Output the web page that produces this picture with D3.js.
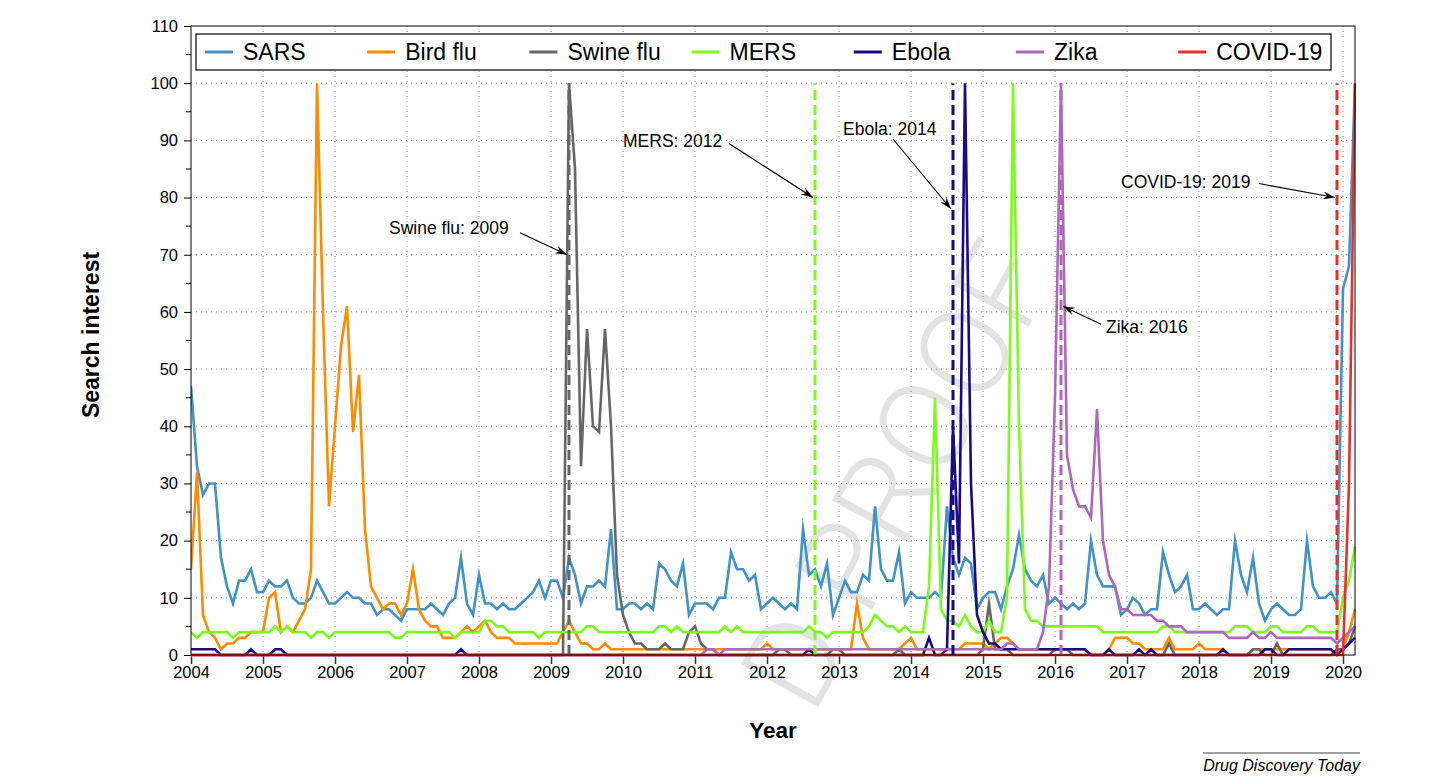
<!DOCTYPE html>
<html><head><meta charset="utf-8">
<script src="https://cdn.jsdelivr.net/npm/d3@7/dist/d3.min.js"></script>
<style>
body{margin:0;background:#fff;}
svg{display:block;font-family:"Liberation Sans",Arial,Helvetica,sans-serif;}
</style>
</head><body>
<svg id="chart" width="1435" height="784"></svg>
<script>
// ---------- DATA (monthly search interest, Jan 2004 – Mar 2020) ----------
const startYear = 2004;
const seriesNames = ["SARS", "Bird flu", "Swine flu", "MERS", "Ebola", "Zika", "COVID-19"];
const seriesColors = ["#4392c6", "#ff8c00", "#666666", "#7cfc1c", "#1a0a86", "#ad68bd", "#e8302a"];

const sars = [
 47,33,28,30,30,17,12,9,13,13,15,11,
 11,13,12,12,13,10,9,9,10,13,11,9,
 9,10,11,10,10,9,9,7,8,8,7,6,
 8,8,8,8,9,8,7,9,10,17,9,7,
 14,9,9,8,9,8,8,9,10,11,13,10,
 13,13,10,17,14,9,12,12,13,12,22,8,
 8,9,9,8,9,8,16,15,13,12,16,7,
 9,9,9,8,10,10,18,15,15,13,14,8,
 9,10,9,8,9,8,22,14,15,12,16,7,
 10,13,11,11,14,13,26,15,13,13,18,9,
 11,10,10,10,11,10,26,17,14,17,16,8,
 10,11,11,8,12,15,21,15,13,12,14,9,
 10,9,8,9,8,9,20,14,12,12,12,7,
 8,10,9,7,8,8,18,14,11,12,14,8,
 8,9,8,7,8,8,20,14,11,17,9,6,
 8,9,8,7,7,8,20,12,10,10,11,9,
 64,68,100];

const birdFlu = [
 15,32,7,4,3,1,2,2,3,3,4,4,
 4,10,11,4,5,4,6,8,15,100,60,26,
 40,54,61,39,49,22,12,10,8,9,9,7,
 9,15,8,6,5,5,3,3,3,4,5,4,
 5,6,4,3,3,3,2,2,2,2,2,2,
 2,2,4,6,4,2,2,1,1,2,1,1,
 1,1,1,1,1,1,1,1,1,1,1,1,
 1,1,1,1,1,1,1,1,1,1,1,1,
 2,1,1,1,1,1,1,1,1,1,1,1,
 1,1,1,9,3,1,1,1,1,1,1,2,
 3,1,1,1,1,1,1,1,1,2,2,2,
 2,1,2,3,3,2,1,1,1,1,1,1,
 1,1,1,1,1,1,0,0,0,1,3,3,
 3,2,2,1,1,1,1,3,1,1,1,1,
 2,1,1,1,1,0,0,0,0,1,1,1,
 1,1,1,1,1,1,1,1,1,1,1,0,
 1,4,8];

const swineFlu = [
 0,0,0,0,0,0,0,0,0,0,0,0,
 0,0,0,0,0,0,0,0,0,0,0,0,
 0,0,0,0,0,0,0,0,0,0,0,0,
 0,0,0,0,0,0,0,0,0,0,0,0,
 0,0,0,0,0,0,0,0,0,0,0,0,
 0,0,0,100,85,33,57,40,39,57,40,14,
 7,4,2,2,1,1,1,2,1,1,1,4,
 5,2,1,1,0,0,0,0,0,0,0,0,
 0,0,1,1,0,0,0,0,0,0,0,1,
 1,0,0,0,0,0,0,0,0,0,1,0,
 0,0,0,0,0,0,0,0,0,0,0,0,
 1,9,1,1,1,0,0,0,0,0,0,0,
 1,1,1,0,0,0,0,0,0,0,0,0,
 0,0,0,0,0,0,0,2,0,0,0,0,
 0,0,0,0,0,0,0,0,0,1,1,0,
 0,2,0,0,0,0,0,0,0,0,0,1,
 1,2,5];

const mers = [
 4,3,4,4,4,4,4,3,4,4,4,4,
 4,4,5,4,5,4,4,4,3,4,4,3,
 4,4,4,4,4,4,4,4,4,4,3,3,
 4,4,4,4,4,4,4,4,3,4,4,4,
 4,6,6,5,5,4,4,4,4,4,3,4,
 4,4,4,4,4,4,5,5,4,4,4,4,
 4,4,4,4,4,4,5,5,4,5,4,4,
 4,4,4,4,4,5,4,5,4,4,4,4,
 4,4,4,4,4,4,4,5,4,4,3,4,
 4,4,4,4,4,5,7,6,5,5,4,5,
 4,4,4,12,45,8,6,6,5,7,5,4,
 4,6,4,4,10,100,40,8,6,6,5,5,
 5,5,5,5,5,5,5,5,4,4,4,4,
 4,4,4,4,4,4,5,5,4,4,4,4,
 4,4,4,4,4,4,5,5,5,4,4,4,
 5,5,4,4,4,4,5,5,4,4,4,4,
 10,13,19];

const ebola = [
 1,1,1,1,1,0,0,0,0,0,1,0,
 0,0,1,1,0,0,0,0,0,0,0,0,
 0,0,0,0,0,0,0,0,0,0,0,0,
 0,0,0,0,0,0,0,0,0,1,0,0,
 0,0,0,0,0,0,0,0,0,0,0,0,
 0,0,0,0,0,0,0,0,0,0,0,0,
 0,0,0,0,0,0,0,0,0,0,0,0,
 0,0,0,0,0,0,0,0,0,0,0,0,
 0,0,0,0,0,0,0,1,0,0,0,0,
 0,0,0,0,0,0,0,0,0,0,0,0,
 0,0,0,3,0,0,1,40,16,100,30,7,
 4,2,2,1,1,1,1,1,1,1,1,1,
 1,1,1,1,1,1,0,0,0,1,0,0,
 0,0,1,0,1,0,0,0,0,0,0,0,
 0,0,0,0,1,0,0,0,0,0,0,1,
 1,0,0,1,1,1,1,1,1,1,1,0,
 1,2,3];

const zika = [
 0,0,0,0,0,0,0,0,0,0,0,0,
 0,0,0,0,0,0,0,0,0,0,0,0,
 0,0,0,0,0,0,0,0,0,0,0,0,
 0,0,0,0,0,0,0,0,0,0,0,0,
 0,0,0,0,0,0,0,0,0,0,0,0,
 0,0,0,0,0,0,0,0,0,0,0,0,
 0,0,0,0,0,0,0,0,0,0,0,0,
 0,0,1,1,0,1,1,1,1,1,1,1,
 1,1,1,1,1,1,1,1,1,1,1,1,
 1,1,1,1,1,1,1,1,1,1,1,1,
 1,1,1,1,1,1,1,1,1,1,1,1,
 1,1,1,1,2,2,1,1,1,1,4,12,
 45,100,35,29,26,26,24,43,20,14,12,8,
 8,7,7,7,7,6,6,5,5,5,4,4,
 4,4,4,4,4,3,3,3,3,4,3,3,
 4,3,3,3,3,3,3,3,3,3,3,2,
 3,4,5];

const covid = [
 0,0,0,0,0,0,0,0,0,0,0,0,
 0,0,0,0,0,0,0,0,0,0,0,0,
 0,0,0,0,0,0,0,0,0,0,0,0,
 0,0,0,0,0,0,0,0,0,0,0,0,
 0,0,0,0,0,0,0,0,0,0,0,0,
 0,0,0,0,0,0,0,0,0,0,0,0,
 0,0,0,0,0,0,0,0,0,0,0,0,
 0,0,0,0,0,0,0,0,0,0,0,0,
 0,0,0,0,0,0,0,0,0,0,0,0,
 0,0,0,0,0,0,0,0,0,0,0,0,
 0,0,0,0,0,0,0,0,0,0,0,0,
 0,0,0,0,0,0,0,0,0,0,0,0,
 0,0,0,0,0,0,0,0,0,0,0,0,
 0,0,0,0,0,0,0,0,0,0,0,0,
 0,0,0,0,0,0,0,0,0,0,0,0,
 0,0,0,0,0,0,0,0,0,0,0,0,
 0,30,100];

const yTickValues = [0,10,20,30,40,50,60,70,80,90,100,110];
const yMinorTicks = [5,15,25,35,45,55,65,75,85,95,105];
const xTickValues = [2004,2005,2006,2007,2008,2009,2010,2011,2012,2013,2014,2015,2016,2017,2018,2019,2020];

// outbreak markers: month index of dashed line, label, arrow target value
const outbreakSeries = [2, 3, 4, 5, 6];
const outbreakMonth = [63, 104, 127, 145, 191];
const outbreakLabels = ["Swine flu: 2009", "MERS: 2012", "Ebola: 2014", "Zika: 2016", "COVID-19: 2019"];
const outbreakArrowValue = [70, 80, 78, 61, 80];

// ---------- CHART ----------
const allSeries = [sars, birdFlu, swineFlu, mers, ebola, zika, covid];
const L = 191, R = 1355, T = 26, B = 655;
const svg = d3.select("#chart");

const x = d3.scaleLinear().domain([startYear, startYear + (sars.length - 1) / 12]).range([L, R]);
const y = d3.scaleLinear().domain([0, 110]).range([B, T]);
const tOf = i => startYear + i / 12;

// watermark
svg.append("g")
  .attr("transform", "translate(1020,255) rotate(-61)")
  .append("text")
  .attr("text-anchor", "end")
  .attr("dominant-baseline", "central")
  .attr("font-family", "Roboto, 'Liberation Sans', sans-serif")
  .attr("font-weight", 300)
  .attr("font-size", 124)
  .attr("fill", "#e3e3e3")
  .text("D PROOF");

// grid
const grid = svg.append("g");
grid.selectAll("line.h").data(yTickValues.filter(v => v > 0 && v < 110)).join("line")
  .attr("x1", L).attr("x2", R).attr("y1", d => y(d)).attr("y2", d => y(d))
  .attr("stroke", "#8c8c8c").attr("stroke-width", 1).attr("stroke-dasharray", "1,4");
grid.selectAll("line.v").data(xTickValues.filter(v => v > 2004)).join("line")
  .attr("x1", d => x(d)).attr("x2", d => x(d)).attr("y1", T).attr("y2", B)
  .attr("stroke", "#8c8c8c").attr("stroke-width", 1).attr("stroke-dasharray", "1,4");

// axes
const yAxis = d3.axisLeft(y).tickValues(yTickValues).tickSize(7).tickPadding(6).tickFormat(d3.format("d"));
const gy = svg.append("g").attr("transform", `translate(${L},0)`).call(yAxis);
gy.selectAll("text").attr("font-size", 16.5).attr("fill", "#000").attr("font-family", "'Liberation Sans',Arial,sans-serif");
gy.select(".domain").remove();
svg.append("g").selectAll("line").data(yMinorTicks).join("line")
  .attr("x1", L - 5).attr("x2", L).attr("y1", d => y(d)).attr("y2", d => y(d)).attr("stroke", "#000");

const xAxis = d3.axisBottom(x).tickValues(xTickValues).tickSize(9).tickPadding(2).tickFormat(d3.format("d"));
const gx = svg.append("g").attr("transform", `translate(0,${B})`).call(xAxis);
gx.selectAll("text").attr("font-size", 16.5).attr("fill", "#000").attr("font-family", "'Liberation Sans',Arial,sans-serif");
gx.select(".domain").remove();
gx.selectAll("line").attr("stroke", "#333").attr("stroke-width", 1.5);

// clip + arrow marker
const defs = svg.append("defs");
defs.append("clipPath").attr("id", "clip").append("rect")
  .attr("x", L).attr("y", T).attr("width", R - L + 1).attr("height", B - T + 3);
defs.append("marker").attr("id", "arrow")
  .attr("viewBox", "0 0 12 8").attr("refX", 12).attr("refY", 4)
  .attr("markerWidth", 12).attr("markerHeight", 8).attr("markerUnits", "userSpaceOnUse")
  .attr("orient", "auto")
  .append("path").attr("d", "M0,0 L12,4 L0,8 L4,4 Z").attr("fill", "#000");

const line = d3.line().x((d, i) => x(tOf(i))).y(d => y(d));
const plot = svg.append("g").attr("clip-path", "url(#clip)");
allSeries.forEach((s, k) => {
  plot.append("path").datum(s).attr("d", line)
    .attr("fill", "none").attr("stroke", seriesColors[k]).attr("stroke-width", 2.6)
    .attr("stroke-linejoin", "miter").attr("stroke-miterlimit", 10);
});

// dashed outbreak lines
outbreakMonth.forEach((m, j) => {
  plot.append("line")
    .attr("x1", x(tOf(m))).attr("x2", x(tOf(m))).attr("y1", y(0)).attr("y2", y(100))
    .attr("stroke", seriesColors[outbreakSeries[j]]).attr("stroke-width", 3)
    .attr("stroke-dasharray", "10,5");
});

// frame (drawn over the series, as in the reference)
svg.append("rect").attr("x", L).attr("y", T).attr("width", R - L).attr("height", B - T)
  .attr("fill", "none").attr("stroke", "#000").attr("stroke-width", 1);

// annotations (label position offsets relative to arrow tip)
const labelDX = [-178, -190, -108, 43, -214];
const labelDY = [-21, -51, -74, 27, -10];
const arrowDX = [-47, -84, -58, 38, -76];
const arrowDY = [-22, -54, -70, 18, -14];
outbreakMonth.forEach((m, j) => {
  const tx = x(tOf(m)) - (j === 3 ? -2 : 2), ty = y(outbreakArrowValue[j]);
  svg.append("line")
    .attr("x1", tx + arrowDX[j]).attr("y1", ty + arrowDY[j]).attr("x2", tx).attr("y2", ty)
    .attr("stroke", "#000").attr("stroke-width", 1.1).attr("marker-end", "url(#arrow)");
  svg.append("text").attr("x", tx + labelDX[j]).attr("y", ty + labelDY[j])
    .attr("font-size", 17.5).attr("fill", "#000").text(outbreakLabels[j]);
});

// legend
const lg = svg.append("g");
lg.append("rect").attr("x", 196).attr("y", 34).attr("width", 1135).attr("height", 36)
  .attr("fill", "#fff").attr("stroke", "#000").attr("stroke-width", 1.2);
seriesNames.forEach((n, k) => {
  const lx = 205 + k * 162.2;
  lg.append("line").attr("x1", lx).attr("x2", lx + 28).attr("y1", 52).attr("y2", 52)
    .attr("stroke", seriesColors[k]).attr("stroke-width", 3);
  lg.append("text").attr("x", lx + 38).attr("y", 60).attr("font-size", 23).attr("fill", "#000").text(n);
});

// axis titles
svg.append("text").attr("transform", "translate(99,335) rotate(-90)").attr("text-anchor", "middle")
  .attr("font-size", 23).attr("font-weight", "bold").text("Search interest");
svg.append("text").attr("x", 773).attr("y", 738).attr("text-anchor", "middle")
  .attr("font-size", 22.5).attr("font-weight", "bold").text("Year");

// journal footer
svg.append("line").attr("x1", 1203).attr("x2", 1360).attr("y1", 753).attr("y2", 753).attr("stroke", "#444").attr("stroke-width", 1);
svg.append("text").attr("x", 1360).attr("y", 771).attr("text-anchor", "end").attr("font-size", 16)
  .attr("font-style", "italic").text("Drug Discovery Today");
</script>
</body></html>
